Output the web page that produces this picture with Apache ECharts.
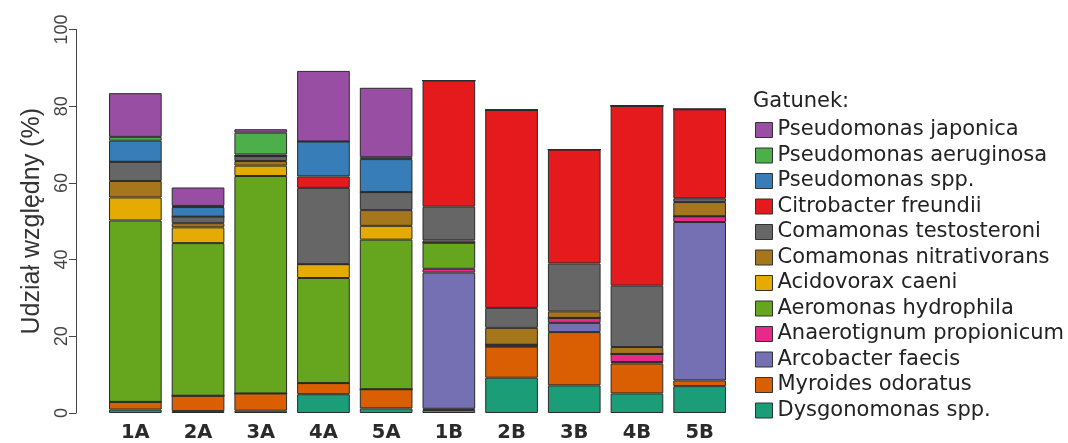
<!DOCTYPE html>
<html>
<head>
<meta charset="utf-8">
<script src="https://cdn.jsdelivr.net/npm/echarts@6/dist/echarts.min.js"></script>
<style>
  html, body { margin: 0; padding: 0; background: #ffffff; }
  #chart { width: 1068px; height: 443px; }
</style>
</head>
<body>
<div id="chart"></div>
<script>
// Samples
const categories = ['1A', '2A', '3A', '4A', '5A', '1B', '2B', '3B', '4B', '5B'];

// Relative abundance (%) per species, one value per sample
const dysgonomonasSpp        = [0.9, 0.5, 0.6, 4.9, 1.2, 0.8, 9.2, 7.2, 5.1, 7.0];
const myroidesOdoratus       = [2.0, 4.0, 4.5, 2.9, 5.0, 0.3, 8.1, 13.9, 7.8, 1.5];
const arcobacterFaecis       = [0, 0, 0, 0, 0, 35.5, 0, 2.4, 0.4, 41.3];
const anaerotignumPropionicum= [0, 0, 0, 0, 0, 1.0, 0.5, 1.3, 2.1, 1.5];
const aeromonasHydrophila    = [47.3, 39.8, 56.7, 27.4, 39.0, 6.8, 0, 0, 0, 0];
const acidovoraxCaeni        = [6.0, 4.1, 2.7, 3.6, 3.6, 0, 0, 0, 0, 0];
const comamonasNitrativorans = [4.3, 1.1, 1.2, 0, 4.1, 0.6, 4.4, 1.7, 1.8, 3.7];
const comamonasTestosteroni  = [5.0, 1.7, 1.3, 19.9, 4.7, 8.8, 5.2, 12.5, 16.0, 1.0];
const citrobacterFreundii    = [0, 0, 0, 3.0, 0, 32.9, 51.6, 29.7, 46.9, 23.2];
const pseudomonasSpp         = [5.5, 2.5, 0.4, 9.1, 8.6, 0, 0, 0, 0, 0];
const pseudomonasAeruginosa  = [1.0, 0.3, 5.7, 0, 0.5, 0, 0, 0, 0, 0];
const pseudomonasJaponica    = [11.4, 4.8, 0.9, 18.4, 18.1, 0, 0, 0, 0, 0];

// Y axis ticks
const yTicks = [0, 20, 40, 60, 80, 100];

// Stack order, bottom to top
const stackSeries = [
  { name: 'Dysgonomonas spp.',        data: dysgonomonasSpp,         color: '#1B9E77' },
  { name: 'Myroides odoratus',        data: myroidesOdoratus,        color: '#D95F02' },
  { name: 'Arcobacter faecis',        data: arcobacterFaecis,        color: '#7570B3' },
  { name: 'Anaerotignum propionicum', data: anaerotignumPropionicum, color: '#E7298A' },
  { name: 'Aeromonas hydrophila',     data: aeromonasHydrophila,     color: '#66A61E' },
  { name: 'Acidovorax caeni',         data: acidovoraxCaeni,         color: '#E6AB02' },
  { name: 'Comamonas nitrativorans',  data: comamonasNitrativorans,  color: '#A6761D' },
  { name: 'Comamonas testosteroni',   data: comamonasTestosteroni,   color: '#666666' },
  { name: 'Citrobacter freundii',     data: citrobacterFreundii,     color: '#E41A1C' },
  { name: 'Pseudomonas spp.',         data: pseudomonasSpp,          color: '#377EB8' },
  { name: 'Pseudomonas aeruginosa',   data: pseudomonasAeruginosa,   color: '#4DAF4A' },
  { name: 'Pseudomonas japonica',     data: pseudomonasJaponica,     color: '#984EA3' }
];

const chart = echarts.init(document.getElementById('chart'), null, { renderer: 'canvas' });

const option = {
  backgroundColor: '#ffffff',
  animation: false,
  grid: { left: 104, top: 29.5, width: 627, height: 385 },
  graphic: [{
    type: 'text',
    left: 753,
    top: 91,
    style: { text: 'Gatunek:', font: '21px "DejaVu Sans"', fill: '#222222' }
  }],
  legend: {
    orient: 'vertical',
    left: 755,
    top: 119.5,
    padding: 0,
    itemWidth: 17,
    itemHeight: 15,
    itemGap: 4.5,
    icon: 'rect',
    itemStyle: { borderColor: '#333333', borderWidth: 1 },
    textStyle: { fontFamily: 'DejaVu Sans', fontSize: 21, color: '#222222' },
    data: stackSeries.map(s => s.name).slice().reverse()
  },
  xAxis: {
    type: 'category',
    data: categories,
    axisLine: { show: false },
    axisTick: { show: false },
    axisLabel: {
      margin: 10,
      fontFamily: 'DejaVu Sans',
      fontWeight: 'bold',
      fontSize: 19.5,
      color: '#2a2a2a'
    }
  },
  yAxis: {
    type: 'value',
    min: yTicks[0],
    max: yTicks[yTicks.length - 1],
    interval: yTicks[1] - yTicks[0],
    offset: 28,
    name: 'Udział względny (%)',
    nameLocation: 'middle',
    nameGap: 27,
    nameRotate: 90,
    nameTextStyle: { fontFamily: 'Liberation Sans', fontSize: 25, color: '#333333' },
    axisLine: { show: true, lineStyle: { color: '#444444', width: 1 } },
    axisTick: { show: true, length: 7, lineStyle: { color: '#444444', width: 1 } },
    axisLabel: {
      rotate: 90,
      margin: 5,
      fontFamily: 'Liberation Sans',
      fontSize: 18,
      color: '#444444'
    },
    splitLine: { show: false }
  },
  series: stackSeries.map(s => ({
    type: 'bar',
    name: s.name,
    stack: 'total',
    barCategoryGap: '16%',
    data: s.data,
    itemStyle: { color: s.color, borderColor: '#2b2b2b', borderWidth: 1 },
    emphasis: { disabled: true }
  }))
};

chart.setOption(option);
</script>
</body>
</html>
